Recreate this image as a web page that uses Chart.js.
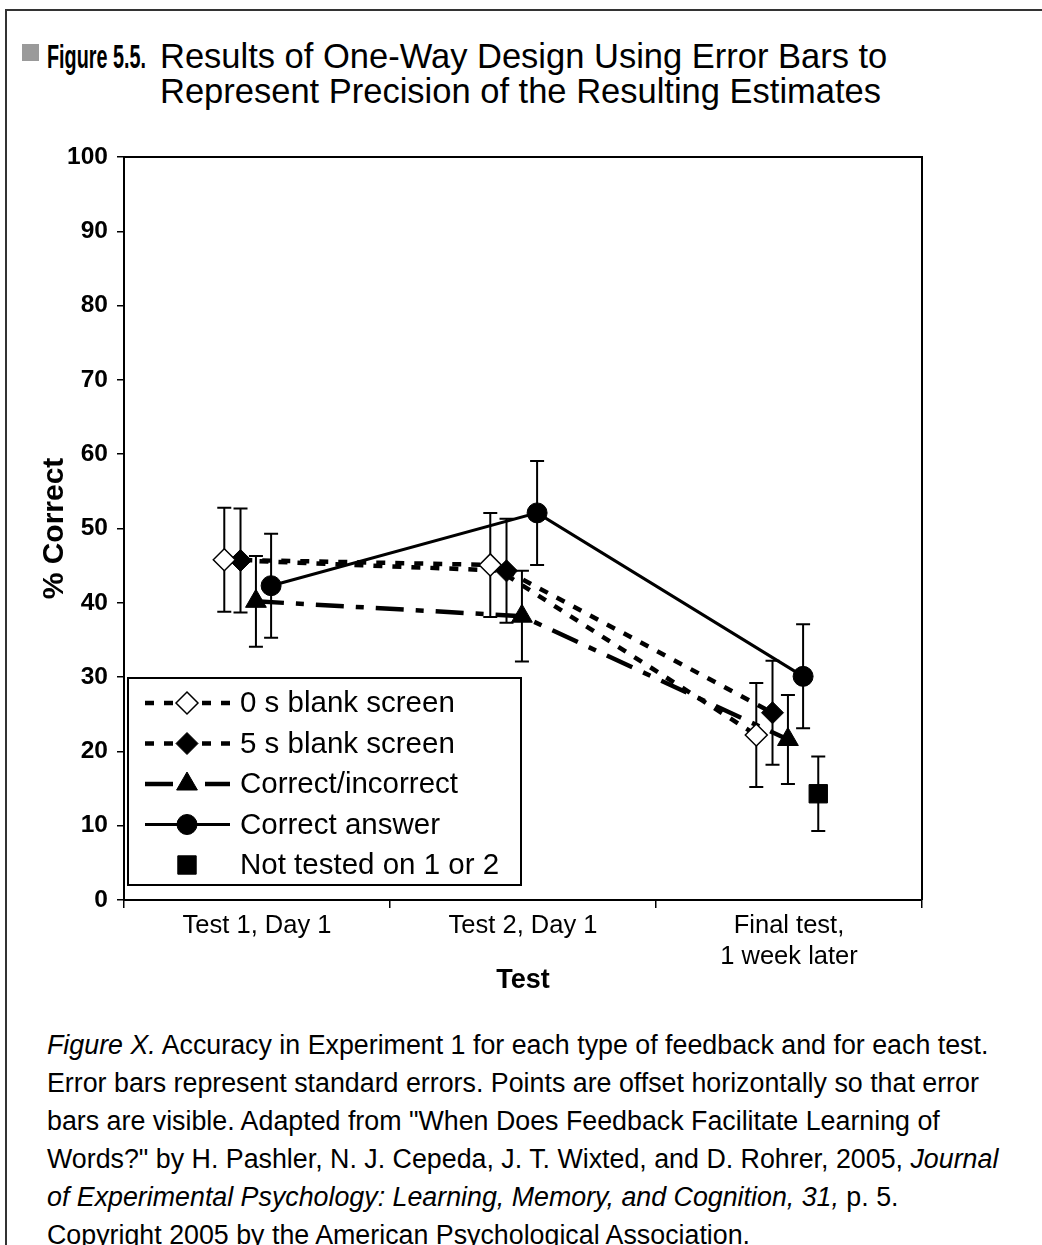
<!DOCTYPE html>
<html>
<head>
<meta charset="utf-8">
<script src="https://cdn.jsdelivr.net/npm/chart.js@4.4.1/dist/chart.umd.min.js"></script>
<style>
body { margin:0; width:1042px; height:1245px; background:#fff; position:relative; overflow:hidden; font-family:"Liberation Sans", Arial, sans-serif; color:#000; }
#frameTop { position:absolute; left:5px; top:9px; width:1037px; height:2px; background:#333; }
#frameLeft { position:absolute; left:5px; top:9px; width:2px; height:1236px; background:#333; }
#icon { position:absolute; left:22px; top:44px; width:17px; height:17px; background:#9a9a9a; }
#fig { position:absolute; left:47px; top:39px; line-height:35px; font-size:33px; font-weight:bold; transform:scaleX(0.6); transform-origin:left center; white-space:nowrap; }
#title { position:absolute; left:160px; top:39px; font-size:34.5px; line-height:35px; white-space:nowrap; }
#wrap { position:absolute; left:0; top:130px; width:1042px; height:880px; }
#caption { position:absolute; left:47px; top:1026px; font-size:26.8px; line-height:38px; white-space:nowrap; }
</style>
</head>
<body>
<div id="frameTop"></div>
<div id="frameLeft"></div>
<div id="icon"></div>
<div id="fig">Figure 5.5.</div>
<div id="title">Results of One-Way Design Using Error Bars to<br>Represent Precision of the Resulting Estimates</div>
<div id="wrap"><canvas id="myChart" width="1042" height="880"></canvas></div>
<div id="caption"><i>Figure X.</i> Accuracy in Experiment 1 for each type of feedback and for each test.<br>Error bars represent standard errors. Points are offset horizontally so that error<br>bars are visible. Adapted from "When Does Feedback Facilitate Learning of<br>Words?" by H. Pashler, N. J. Cepeda, J. T. Wixted, and D. Rohrer, 2005, <i>Journal</i><br><i>of Experimental Psychology: Learning, Memory, and Cognition, 31,</i> p. 5.<br>Copyright 2005 by the American Psychological Association.</div>

<script>
const categories = ['Test 1, Day 1', 'Test 2, Day 1', ['Final test,', '1 week later']];
const seriesNames = ['0 s blank screen', '5 s blank screen', 'Correct/incorrect', 'Correct answer', 'Not tested on 1 or 2'];

const zeroBlank = [45.8, 45.1, 22.2];
const zeroBlankErr = [7, 7, 7];
const fiveBlank = [45.7, 44.3, 25.2];
const fiveBlankErr = [7, 7, 7];
const correctIncorrect = [40.2, 38.2, 21.6];
const correctIncorrectErr = [6.1, 6.1, 6];
const correctAnswer = [42.3, 52.1, 30.1];
const correctAnswerErr = [7, 7, 7];
const notTested = [null, null, 14.3];
const notTestedErr = [null, null, 5];

// points are shifted sideways so the error bars don't sit on top of each other
const jitter = [-0.123, -0.062, -0.004, 0.053, 0.11];

Chart.defaults.font.family = '"Liberation Sans", Arial, sans-serif';
Chart.defaults.color = '#000';

function puntos(vals, errs, off) {
    const out = [];
    vals.forEach((v, i) => {
        if (v == null) return;
        out.push({ x: i + off, y: v, e: errs[i] });
    });
    return out;
}

const errorBars = {
    id: 'errorBars',
    beforeDatasetsDraw(chart) {
        const { ctx, chartArea: ca } = chart;
        const xs = chart.scales.xv, ys = chart.scales.y;
        ctx.save();
        // top and right side of the plot box
        ctx.strokeStyle = '#000';
        ctx.lineWidth = 2;
        ctx.beginPath();
        ctx.moveTo(ca.left, ca.top);
        ctx.lineTo(ca.right, ca.top);
        ctx.lineTo(ca.right, ca.bottom);
        ctx.stroke();

        ctx.lineWidth = 2;
        chart.data.datasets.forEach(ds => {
            ds.data.forEach(p => {
                const x = xs.getPixelForValue(p.x);
                const t = ys.getPixelForValue(p.y + p.e);
                const b = ys.getPixelForValue(p.y - p.e);
                ctx.beginPath();
                ctx.moveTo(x, t); ctx.lineTo(x, b);
                ctx.moveTo(x - 7, t); ctx.lineTo(x + 7, t);
                ctx.moveTo(x - 7, b); ctx.lineTo(x + 7, b);
                ctx.stroke();
            });
        });
        ctx.restore();
    }
};

const boxLegend = {
    id: 'boxLegend',
    afterDatasetsDraw(chart) {
        const { ctx, chartArea: ca } = chart;
        const left = ca.left + 4, top = ca.bottom - 222, w = 393, h = 207;
        ctx.save();
        ctx.fillStyle = '#fff';
        ctx.fillRect(left, top, w, h);
        ctx.strokeStyle = '#000';
        ctx.lineWidth = 2;
        ctx.strokeRect(left, top, w, h);
        chart.data.datasets.forEach((ds, i) => {
            const y = top + 25 + i * 40.5;
            if (ds.showLine !== false) {
                ctx.setLineDash(ds.borderDash || []);
                ctx.lineWidth = ds.borderWidth;
                ctx.beginPath();
                ctx.moveTo(left + 17, y);
                ctx.lineTo(left + 102, y);
                ctx.stroke();
                ctx.setLineDash([]);
            }
            ctx.fillStyle = ds.pointBackgroundColor;
            ctx.strokeStyle = '#000';
            ctx.lineWidth = ds.pointBorderWidth;
            Chart.helpers.drawPoint(ctx, {
                pointStyle: ds.pointStyle,
                radius: ds.pointRadius,
                borderWidth: ds.pointBorderWidth,
                rotation: 0
            }, left + 59, y);
            ctx.fillStyle = '#000';
            ctx.font = '29.5px "Liberation Sans", Arial, sans-serif';
            ctx.textBaseline = 'middle';
            ctx.fillText(ds.label, left + 112, y + 1);
        });
        ctx.restore();
    }
};

const ctx = document.getElementById('myChart').getContext('2d');
const myChart = new Chart(ctx, {
    type: 'line',
    data: {
        labels: categories,
        datasets: [
            {
                label: seriesNames[0],
                data: puntos(zeroBlank, zeroBlankErr, jitter[0]),
                xAxisID: 'xv',
                borderColor: '#000', borderWidth: 4.5, borderDash: [9, 10],
                pointStyle: 'rectRot', pointRadius: 11,
                pointBackgroundColor: '#fff', pointBorderColor: '#000', pointBorderWidth: 1.5
            },
            {
                label: seriesNames[1],
                data: puntos(fiveBlank, fiveBlankErr, jitter[1]),
                xAxisID: 'xv',
                borderColor: '#000', borderWidth: 4.5, borderDash: [9, 10],
                pointStyle: 'rectRot', pointRadius: 11,
                pointBackgroundColor: '#000', pointBorderColor: '#000', pointBorderWidth: 1
            },
            {
                label: seriesNames[2],
                data: puntos(correctIncorrect, correctIncorrectErr, jitter[2]),
                xAxisID: 'xv',
                borderColor: '#000', borderWidth: 4.5, borderDash: [28, 12, 8, 12],
                pointStyle: 'triangle', pointRadius: 12,
                pointBackgroundColor: '#000', pointBorderColor: '#000', pointBorderWidth: 1
            },
            {
                label: seriesNames[3],
                data: puntos(correctAnswer, correctAnswerErr, jitter[3]),
                xAxisID: 'xv',
                borderColor: '#000', borderWidth: 3, borderDash: [],
                pointStyle: 'circle', pointRadius: 10,
                pointBackgroundColor: '#000', pointBorderColor: '#000', pointBorderWidth: 1
            },
            {
                label: seriesNames[4],
                data: puntos(notTested, notTestedErr, jitter[4]),
                xAxisID: 'xv',
                showLine: false,
                borderColor: '#000', borderWidth: 0,
                pointStyle: 'rect', pointRadius: 13,
                pointBackgroundColor: '#000', pointBorderColor: '#000', pointBorderWidth: 1
            }
        ]
    },
    options: {
        responsive: false,
        animation: false,
        layout: { padding: { top: 27, right: 120, bottom: 0, left: 0 } },
        plugins: {
            legend: { display: false },
            tooltip: { enabled: false }
        },
        scales: {
            x: {
                type: 'category',
                position: 'bottom',
                offset: true,
                grid: { offset: true, drawOnChartArea: false, drawTicks: true, tickLength: 8, color: '#000', lineWidth: 1.5 },
                border: { color: '#000', width: 2 },
                ticks: { color: '#000', font: { size: 25.5, lineHeight: 1.2 }, padding: 3, maxRotation: 0, autoSkip: false },
                title: { display: true, text: 'Test', color: '#000', font: { size: 27, weight: 'bold' }, padding: { top: 0, bottom: 13 } },
                afterFit(s) { s.height = 110; }
            },
            xv: {
                type: 'linear',
                display: false,
                min: -0.5,
                max: 2.5
            },
            y: {
                min: 0,
                max: 100,
                ticks: { stepSize: 10, color: '#000', font: { size: 24.5, weight: 'bold' }, padding: 9 },
                grid: { drawOnChartArea: false, tickLength: 7, color: '#000', lineWidth: 1.5 },
                border: { color: '#000', width: 2 },
                title: { display: true, text: '% Correct', color: '#000', font: { size: 30, weight: 'bold' }, padding: { top: 37, bottom: 0 } },
                afterFit(s) { s.width = 124; }
            }
        }
    },
    plugins: [errorBars, boxLegend]
});
</script>
</body>
</html>
